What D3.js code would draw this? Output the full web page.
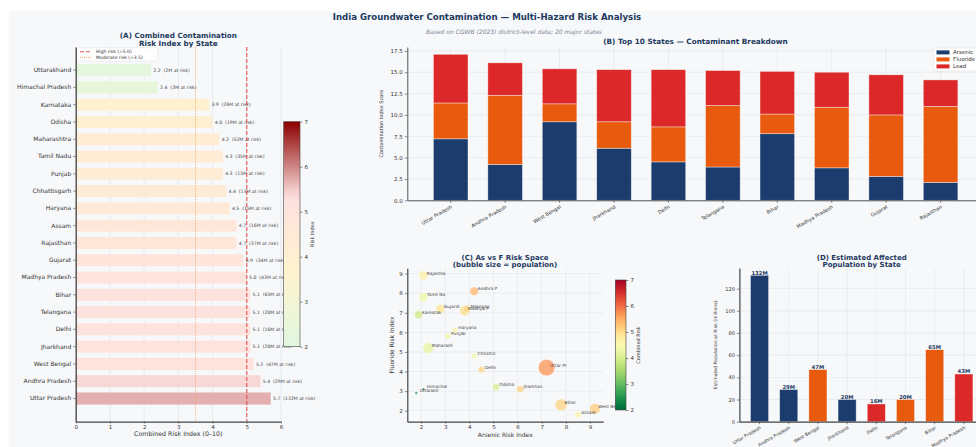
<!DOCTYPE html>
<html>
<head>
<meta charset="utf-8">
<script src="https://cdn.jsdelivr.net/npm/d3@7"></script>
<style>
  html, body { margin: 0; padding: 0; background: #ffffff; }
  svg { display: block; }
</style>
</head>
<body>
<svg id="chart" width="976" height="447"></svg>
<script>
// ---------------- data ----------------
const states = ["Uttarakhand", "Himachal Pradesh", "Karnataka", "Odisha", "Maharashtra",
  "Tamil Nadu", "Punjab", "Chhattisgarh", "Haryana", "Assam", "Rajasthan", "Gujarat",
  "Madhya Pradesh", "Bihar", "Telangana", "Delhi", "Jharkhand", "West Bengal",
  "Andhra Pradesh", "Uttar Pradesh"];
const riskIndex   = [2.2, 2.4, 3.9, 4.0, 4.2, 4.3, 4.3, 4.4, 4.5, 4.7, 4.7, 4.9, 5.0, 5.1, 5.1, 5.1, 5.1, 5.2, 5.4, 5.7];
const popAtRisk   = [2, 2, 26, 19, 52, 35, 13, 13, 15, 16, 37, 34, 43, 65, 20, 16, 20, 47, 29, 132];
const arsenicIdx  = [1.8, 2.1, 1.9, 5.1, 2.3, 2.1, 3.1, 4.2, 3.4, 8.5, 2.1, 2.8, 3.8, 7.8, 3.9, 4.5, 6.1, 9.2, 4.2, 7.2];
const fluorideIdx = [2.9, 3.1, 6.9, 3.2, 5.2, 7.8, 5.8, 4.8, 6.1, 1.8, 8.9, 7.2, 7.1, 2.3, 7.2, 4.1, 3.1, 2.1, 8.1, 4.2];

const top10States = ["Uttar Pradesh", "Andhra Pradesh", "West Bengal", "Jharkhand", "Delhi",
  "Telangana", "Bihar", "Madhya Pradesh", "Gujarat", "Rajasthan"];
const leadIdxTop10 = [5.7, 3.8, 4.1, 6.1, 6.7, 4.1, 5.0, 4.1, 4.7, 3.1];

const popStates = top10States.slice(0, 8);
const popBarGroup = ["Arsenic", "Arsenic", "Fluoride", "Arsenic", "Lead", "Fluoride", "Fluoride", "Lead"];

const contaminants = ["Arsenic", "Fluoride", "Lead"];
const riskTicks = [2, 3, 4, 5, 6, 7];

// ---------------- styling ----------------
const FONT = '"DejaVu Sans", "Liberation Sans", sans-serif';
const INK = "#333333";
const TITLE = "#1d3a5f";
const GRID = "#d7dbe1";
const contaminantColor = { Arsenic: "#1b3c6c", Fluoride: "#e85b0e", Lead: "#dc2828" };

const byName = name => states.indexOf(name);

const svg = d3.select("#chart").attr("font-family", FONT);
const defs = svg.append("defs");

svg.append("rect").attr("x", 9).attr("y", 11).attr("width", 967).attr("height", 436).attr("fill", "#f7f8fa");

function text(g, x, y, str, o = {}) {
  const t = g.append("text").attr("x", x).attr("y", y).text(str)
    .attr("font-size", o.size || 6).attr("fill", o.fill || INK)
    .attr("text-anchor", o.anchor || "start");
  if (o.weight) t.attr("font-weight", o.weight);
  if (o.style) t.attr("font-style", o.style);
  if (o.rotate) t.attr("transform", `rotate(${o.rotate},${x},${y})`);
  if (o.dy) t.attr("dy", o.dy);
  return t;
}

function styleAxis(g, fs) {
  g.attr("font-family", FONT).attr("font-size", fs);
  g.select(".domain").attr("stroke", "#444").attr("stroke-width", 0.9);
  g.selectAll(".tick line").attr("stroke", "#444").attr("stroke-width", 0.6);
  g.selectAll(".tick text").attr("fill", INK);
}

function gradient(id, fn, lo, hi) {
  const g = defs.append("linearGradient").attr("id", id)
    .attr("x1", 0).attr("y1", 1).attr("x2", 0).attr("y2", 0);
  d3.range(0, 1.0001, 0.05).forEach(t =>
    g.append("stop").attr("offset", t).attr("stop-color", fn(lo + t * (hi - lo))));
}

function colorbar(g, x0, x1, y0, y1, scale, id, label, labelX) {
  g.append("rect").attr("x", x0).attr("y", y0).attr("width", x1 - x0).attr("height", y1 - y0)
    .attr("fill", `url(#${id})`).attr("stroke", "#444").attr("stroke-width", 0.6);
  const ax = g.append("g").attr("transform", `translate(${x1},0)`)
    .call(d3.axisRight(scale).tickValues(riskTicks).tickSize(2.5).tickPadding(2).tickFormat(d3.format("d")));
  styleAxis(ax, 5.5);
  ax.select(".domain").remove();
  text(g, labelX, (y0 + y1) / 2, label, { size: 5, anchor: "middle", rotate: -90 });
}

// ---------------- titles ----------------
text(svg, 487, 20, "India Groundwater Contamination — Multi-Hazard Risk Analysis",
  { size: 8.6, weight: "bold", fill: TITLE, anchor: "middle" });
text(svg, 514, 34, "Based on CGWB (2023) district-level data; 20 major states",
  { size: 6, style: "italic", fill: "#7b8494", anchor: "middle" });

// ============ (A) combined risk index, horizontal bars ============
const A = { l: 75.7, r: 281, t: 47, b: 421.6 };
const riskCmap = d3.scaleLinear()
  .domain([2, 2 + 5 / 3, 2 + 10 / 3, 7])
  .range(["#e0f7e0", "#fff3cd", "#fde0e0", "#8b0000"])
  .clamp(true);
const xA = d3.scaleLinear().domain([0, 6]).range([A.l, A.r]);
const yA = d3.scaleBand().domain(states).range([A.t, A.b]).paddingInner(0.3).paddingOuter(0.985);
const gA = svg.append("g");

gA.selectAll("line.grid").data(xA.ticks(6)).join("line")
  .attr("x1", d => xA(d)).attr("x2", d => xA(d)).attr("y1", A.t).attr("y2", A.b)
  .attr("stroke", GRID).attr("stroke-width", 0.5);

gA.selectAll("rect.bar").data(states).join("rect")
  .attr("x", xA(0)).attr("y", d => yA(d))
  .attr("width", (d, i) => xA(riskIndex[i]) - xA(0))
  .attr("height", yA.bandwidth())
  .attr("fill", (d, i) => riskCmap(riskIndex[i]));

gA.selectAll("text.val").data(states).join("text")
  .attr("x", (d, i) => xA(riskIndex[i]) + 2.3)
  .attr("y", d => yA(d) + yA.bandwidth() / 2).attr("dy", "0.35em")
  .attr("font-size", 4.6).attr("fill", "#444")
  .attr("xml:space", "preserve")
  .text((d, i) => `${riskIndex[i].toFixed(1)}  (${popAtRisk[i]}M at risk)`);

// threshold lines
gA.append("line").attr("x1", xA(5)).attr("x2", xA(5)).attr("y1", A.t).attr("y2", A.b)
  .attr("stroke", "#e53935").attr("stroke-width", 1.1).attr("stroke-dasharray", "4,2").attr("opacity", 0.85);
gA.append("line").attr("x1", xA(3.5)).attr("x2", xA(3.5)).attr("y1", A.t).attr("y2", A.b)
  .attr("stroke", "#f4a46e").attr("stroke-width", 1).attr("stroke-dasharray", "1,1").attr("opacity", 0.8);

// legend
gA.append("rect").attr("x", 76.8).attr("y", 47.8).attr("width", 81).attr("height", 13.3).attr("rx", 1)
  .attr("fill", "#ffffff").attr("fill-opacity", 0.85).attr("stroke", "#dddddd").attr("stroke-width", 0.4);
gA.append("line").attr("x1", 80).attr("x2", 91).attr("y1", 51.8).attr("y2", 51.8)
  .attr("stroke", "#e53935").attr("stroke-width", 1.1).attr("stroke-dasharray", "4,2").attr("opacity", 0.85);
gA.append("line").attr("x1", 80).attr("x2", 91).attr("y1", 57.4).attr("y2", 57.4)
  .attr("stroke", "#f4a46e").attr("stroke-width", 1).attr("stroke-dasharray", "1,1");
text(gA, 96, 53.4, "High risk (>5.0)", { size: 4.5 });
text(gA, 96, 59, "Moderate risk (>3.5)", { size: 4.5 });

const axAy = gA.append("g").attr("transform", `translate(${A.l},0)`)
  .call(d3.axisLeft(yA).tickSize(2.5).tickPadding(2).tickSizeOuter(0));
styleAxis(axAy, 6);
axAy.select(".domain").attr("stroke-width", 1.3);
const axAx = gA.append("g").attr("transform", `translate(0,${A.b})`)
  .call(d3.axisBottom(xA).ticks(6).tickSize(2).tickPadding(1.5).tickSizeOuter(0).tickFormat(d3.format("d")));
styleAxis(axAx, 5.5);
axAx.select(".domain").attr("stroke-width", 1.3);
text(gA, (A.l + A.r) / 2, 436, "Combined Risk Index (0–10)", { size: 6.3, anchor: "middle" });
text(gA, (A.l + A.r) / 2, 38.2, "(A) Combined Contamination", { size: 7.2, weight: "bold", fill: TITLE, anchor: "middle" });
text(gA, (A.l + A.r) / 2, 45.6, "Risk Index by State", { size: 7.2, weight: "bold", fill: TITLE, anchor: "middle" });

gradient("gradA", riskCmap, 2, 7);
colorbar(gA, 283.7, 300, 121.7, 346.7, d3.scaleLinear().domain([2, 7]).range([346.7, 121.7]), "gradA", "Risk Index", 314.5);

// ============ (B) stacked contaminant breakdown ============
const B = { l: 407.3, r: 984, t: 47, b: 200.3 };
const tableB = top10States.map((s, i) => ({
  state: s,
  Arsenic: arsenicIdx[byName(s)],
  Fluoride: fluorideIdx[byName(s)],
  Lead: leadIdxTop10[i]
}));
const stackB = d3.stack().keys(contaminants)(tableB);
const maxB = d3.max(tableB, d => d.Arsenic + d.Fluoride + d.Lead) * 1.05;
const xB = d3.scaleBand().domain(top10States).range([B.l, B.r]).paddingInner(0.365).paddingOuter(0.48);
const yB = d3.scaleLinear().domain([0, maxB]).range([B.b, B.t]);
const gB = svg.append("g");
const yTicksB = d3.range(0, 17.6, 2.5);

gB.selectAll("line.gy").data(yTicksB).join("line")
  .attr("x1", B.l).attr("x2", B.r).attr("y1", d => yB(d)).attr("y2", d => yB(d))
  .attr("stroke", GRID).attr("stroke-width", 0.5).attr("opacity", 0.8);
gB.selectAll("line.gx").data(top10States).join("line")
  .attr("x1", d => xB(d) + xB.bandwidth() / 2).attr("x2", d => xB(d) + xB.bandwidth() / 2)
  .attr("y1", B.t).attr("y2", B.b)
  .attr("stroke", GRID).attr("stroke-width", 0.5).attr("opacity", 0.8);

gB.selectAll("g.layer").data(stackB).join("g")
  .attr("fill", d => contaminantColor[d.key])
  .selectAll("rect").data(d => d).join("rect")
  .attr("x", d => xB(d.data.state)).attr("width", xB.bandwidth())
  .attr("y", d => yB(d[1])).attr("height", d => yB(d[0]) - yB(d[1]))
  .attr("stroke", "#ffffff").attr("stroke-width", 0.7).attr("stroke-opacity", 0.55);

const axBy = gB.append("g").attr("transform", `translate(${B.l},0)`)
  .call(d3.axisLeft(yB).tickValues(yTicksB).tickSize(2.5).tickPadding(2).tickSizeOuter(0).tickFormat(d3.format(".1f")));
styleAxis(axBy, 5.5);
const axBx = gB.append("g").attr("transform", `translate(0,${B.b})`)
  .call(d3.axisBottom(xB).tickSize(2.5).tickSizeOuter(0));
styleAxis(axBx, 5);
axBx.selectAll(".tick text").attr("x", 0).attr("y", 0).attr("dy", "0.35em")
  .attr("text-anchor", "end").attr("transform", "translate(1,6) rotate(-30)");
text(gB, 383, (B.t + B.b) / 2, "Contamination Index Score", { size: 5, anchor: "middle", rotate: -90 });
text(gB, 695.5, 44.3, "(B) Top 10 States — Contaminant Breakdown", { size: 7.3, weight: "bold", fill: TITLE, anchor: "middle" });

// legend
const lgB = gB.append("g");
lgB.append("rect").attr("x", 933.5).attr("y", 48).attr("width", 56).attr("height", 23).attr("rx", 1.2)
  .attr("fill", "#ffffff").attr("fill-opacity", 0.85).attr("stroke", "#dddddd").attr("stroke-width", 0.5);
contaminants.forEach((c, i) => {
  const yy = 52.4 + i * 7;
  lgB.append("rect").attr("x", 936.5).attr("y", yy - 2).attr("width", 13).attr("height", 4).attr("fill", contaminantColor[c]);
  text(lgB, 953, yy + 2, c, { size: 5.5 });
});

// ============ (C) arsenic vs fluoride bubbles ============
const C = { l: 407.3, r: 603.3, t: 268.3, b: 421.7 };
const xC = d3.scaleLinear().domain([1.43, 9.55]).range([C.l, C.r]);
const yC = d3.scaleLinear().domain([1.44, 9.27]).range([C.b, C.t]);
const rC = d3.scalePow().exponent(0.45).domain([0, d3.max(popAtRisk)]).range([0, 8.2]);
const riskCmapC = v => d3.interpolateRdYlGn(1 - (v - 2) / 5);
const gC = svg.append("g");

gC.selectAll("line.gx").data(d3.range(2, 10)).join("line")
  .attr("x1", d => xC(d)).attr("x2", d => xC(d)).attr("y1", C.t).attr("y2", C.b)
  .attr("stroke", GRID).attr("stroke-width", 0.5).attr("opacity", 0.7);
gC.selectAll("line.gy").data(d3.range(2, 10)).join("line")
  .attr("x1", C.l).attr("x2", C.r).attr("y1", d => yC(d)).attr("y2", d => yC(d))
  .attr("stroke", GRID).attr("stroke-width", 0.5).attr("opacity", 0.7);

const order = d3.range(states.length).sort((a, b) => popAtRisk[b] - popAtRisk[a]);
gC.selectAll("circle").data(order).join("circle")
  .attr("cx", i => xC(arsenicIdx[i])).attr("cy", i => yC(fluorideIdx[i]))
  .attr("r", i => rC(popAtRisk[i]))
  .attr("fill", i => riskCmapC(riskIndex[i])).attr("fill-opacity", 0.75)
  .attr("stroke", "#ffffff").attr("stroke-width", 0.3);
gC.selectAll("text.lbl").data(states).join("text")
  .attr("x", (d, i) => xC(arsenicIdx[i]) + 3.4)
  .attr("y", (d, i) => yC(fluorideIdx[i]) - 1)
  .attr("font-size", 4.3).attr("fill", "#444")
  .text(d => d.slice(0, 8));

const axCx = gC.append("g").attr("transform", `translate(0,${C.b})`)
  .call(d3.axisBottom(xC).tickValues(d3.range(2, 10)).tickSize(2).tickPadding(1.5).tickSizeOuter(0));
styleAxis(axCx, 5.5);
axCx.select(".domain").attr("stroke-width", 1.2);
const axCy = gC.append("g").attr("transform", `translate(${C.l},0)`)
  .call(d3.axisLeft(yC).tickValues(d3.range(2, 10)).tickSize(2.5).tickPadding(2).tickSizeOuter(0));
styleAxis(axCy, 5.5);
axCy.select(".domain").attr("stroke-width", 1.2);
text(gC, (C.l + C.r) / 2, 436.5, "Arsenic Risk Index", { size: 6, anchor: "middle" });
text(gC, 393.5, (C.t + C.b) / 2, "Fluoride Risk Index", { size: 6, anchor: "middle", rotate: -90 });
text(gC, 505, 260, "(C) As vs F Risk Space", { size: 7, weight: "bold", fill: TITLE, anchor: "middle" });
text(gC, 505, 266.8, "(bubble size = population)", { size: 7, weight: "bold", fill: TITLE, anchor: "middle" });

gradient("gradC", riskCmapC, 2, 7);
colorbar(gC, 615.3, 626, 280, 410, d3.scaleLinear().domain([2, 7]).range([410, 280]), "gradC", "Combined Risk", 640);

// ============ (D) population at risk ============
const D = { l: 739.4, r: 984, t: 268, b: 421.7 };
const popD = popStates.map(s => popAtRisk[byName(s)]);
const xD = d3.scaleBand().domain(popStates).range([D.l, D.r]).paddingInner(0.38).paddingOuter(0.38);
const yD = d3.scaleLinear().domain([0, d3.max(popD) * 1.05]).range([D.b, D.t]);
const gD = svg.append("g");
const yTicksD = d3.range(0, 121, 20);

gD.selectAll("line.gy").data(yTicksD).join("line")
  .attr("x1", D.l).attr("x2", D.r).attr("y1", d => yD(d)).attr("y2", d => yD(d))
  .attr("stroke", GRID).attr("stroke-width", 0.5).attr("opacity", 0.8);
gD.selectAll("line.gx").data(popStates).join("line")
  .attr("x1", d => xD(d) + xD.bandwidth() / 2).attr("x2", d => xD(d) + xD.bandwidth() / 2)
  .attr("y1", D.t).attr("y2", D.b)
  .attr("stroke", GRID).attr("stroke-width", 0.5).attr("opacity", 0.8);

gD.selectAll("rect.bar").data(popStates).join("rect")
  .attr("x", d => xD(d)).attr("width", xD.bandwidth())
  .attr("y", (d, i) => yD(popD[i])).attr("height", (d, i) => yD(0) - yD(popD[i]))
  .attr("fill", (d, i) => contaminantColor[popBarGroup[i]])
  .attr("stroke", "#ffffff").attr("stroke-width", 0.7).attr("stroke-opacity", 0.55);
gD.selectAll("text.val").data(popStates).join("text")
  .attr("x", d => xD(d) + xD.bandwidth() / 2).attr("y", (d, i) => yD(popD[i]) - 0.6)
  .attr("text-anchor", "middle").attr("font-size", 5.3).attr("font-weight", "bold").attr("fill", TITLE)
  .text((d, i) => `${popD[i]}M`);

const axDy = gD.append("g").attr("transform", `translate(${D.l},0)`)
  .call(d3.axisLeft(yD).tickValues(yTicksD).tickSize(2.5).tickPadding(2).tickSizeOuter(0));
styleAxis(axDy, 5);
axDy.select(".domain").attr("stroke-width", 1.2);
const axDx = gD.append("g").attr("transform", `translate(0,${D.b})`)
  .call(d3.axisBottom(xD).tickSize(2.5).tickSizeOuter(0));
styleAxis(axDx, 4.6);
axDx.select(".domain").attr("stroke-width", 1.2);
axDx.selectAll(".tick text").attr("x", 0).attr("y", 0).attr("dy", "0.35em")
  .attr("text-anchor", "end").attr("transform", "translate(1,5.5) rotate(-30)");
text(gD, 717.5, (D.t + D.b) / 2, "Estimated Population at Risk (millions)", { size: 4.6, anchor: "middle", rotate: -90 });
text(gD, 861.7, 260, "(D) Estimated Affected", { size: 7, weight: "bold", fill: TITLE, anchor: "middle" });
text(gD, 861.7, 266.8, "Population by State", { size: 7, weight: "bold", fill: TITLE, anchor: "middle" });
</script>
</body>
</html>
